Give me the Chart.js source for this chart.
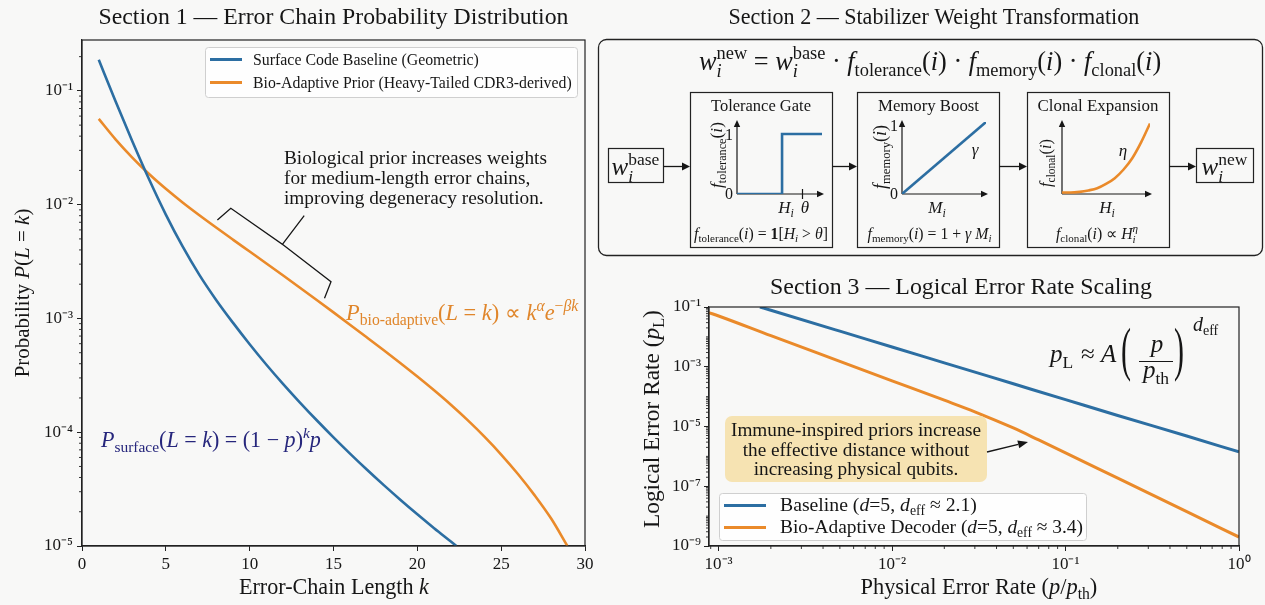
<!DOCTYPE html>
<html><head><meta charset="utf-8">
<script src="https://cdn.jsdelivr.net/npm/chart.js@4.4.1/dist/chart.umd.min.js"></script>
<style>
html,body{margin:0;padding:0;background:#f8f8f7;}
#wrap{position:relative;width:1265px;height:605px;overflow:hidden;background:#f8f8f7;}
canvas{position:absolute;}
</style></head><body><div id="wrap">
<canvas id="bg" width="1265" height="605" style="left:0;top:0"></canvas>
<canvas id="c1" width="600" height="605" style="left:0;top:0"></canvas>
<canvas id="c3" width="665" height="335" style="left:600px;top:270px"></canvas>
<canvas id="m1" width="93" height="80" style="left:733px;top:118px"></canvas>
<canvas id="m2" width="92" height="80" style="left:898px;top:118px"></canvas>
<canvas id="m3" width="96" height="80" style="left:1058px;top:118px"></canvas>
<canvas id="ov" width="1265" height="605" style="left:0;top:0;pointer-events:none"></canvas>
</div>
<script>
// ---------- DATA ----------
// Section 1: error-chain length k and probabilities
const kSurface = [1,2,3,4,5,6,7,8,9,10,11,12,13,14,15,16,17,18,19,20,21,22,22.33];
const pSurface = [0.1875,0.08091,0.03614,0.01671,0.008185,0.004295,0.002415,0.001455,9.183e-4,5.929e-4,3.917e-4,2.649e-4,1.824e-4,1.274e-4,9.016e-5,6.457e-5,4.677e-5,3.428e-5,2.541e-5,1.901e-5,1.435e-5,1.094e-5,1.0e-5];
const kBio = [1,2,3,4,5,6,7,8,9,10,11,12,13,14,15,16,17,18,19,20,21,22,23,24,25,26,27,28,28.95];
const pBio = [0.05675,0.03750,0.02594,0.01858,0.01377,0.01045,0.008072,0.006295,0.004932,0.003873,0.003041,0.002382,0.001862,0.001452,0.001130,8.770e-4,6.792e-4,5.248e-4,4.036e-4,3.083e-4,2.333e-4,1.742e-4,1.276e-4,9.141e-5,6.368e-5,4.295e-5,2.786e-5,1.726e-5,1.0e-5];
const s1XTicks = [0,5,10,15,20,25,30];
const s1YTicks = [1e-5,1e-4,1e-3,1e-2,1e-1];
const s1YLabels = ['10⁻⁵','10⁻⁴','10⁻³','10⁻²','10⁻¹'];
const s1Legend = ['Surface Code Baseline (Geometric)','Bio-Adaptive Prior (Heavy-Tailed CDR3-derived)'];

// Section 2: schematic transfer functions
const tolX = [0,0.53,0.53,1], tolY = [0,0,1,1];
const memX = [0,1], memY = [0,1];
const cloX = [0,0.1,0.2,0.3,0.4,0.5,0.6,0.7,0.8,0.9,1.0];
const cloY = [0.02,0.02,0.03,0.05,0.08,0.14,0.22,0.34,0.50,0.72,0.98];

// Section 3: physical vs logical error rate
const pBaseX = [0.00173,0.002,0.005,0.01,0.02,0.05,0.1,0.2,0.5,1];
const pBaseY = [0.1,0.0776,0.0155,4.57e-3,1.35e-3,2.69e-4,7.94e-5,2.34e-5,4.79e-6,1.41e-6];
const pBioX = [0.00088,0.001,0.002,0.005,0.01,0.02,0.03,0.05,0.07,0.1,0.2,0.5,1];
const pBioY = [0.0646,0.0501,0.01096,1.514e-3,3.388e-4,7.586e-5,3.112e-5,8.913e-6,3.548e-6,1.318e-6,1.862e-7,1.413e-8,1.995e-9];
const s3XTicks = [1e-3,1e-2,1e-1,1];
const s3XLabels = ['10⁻³','10⁻²','10⁻¹','10⁰'];
const s3YTicks = [1e-9,1e-7,1e-5,1e-3,1e-1];
const s3YLabels = ['10⁻⁹','10⁻⁷','10⁻⁵','10⁻³','10⁻¹'];

// ---------- STYLE ----------
const SERIF='"Liberation Serif","Times New Roman",Times,serif';
const BLUE='#2c6ea2', ORANGE='#ea8a2a', INK='#161616', AX='#222';
Chart.defaults.font.family=SERIF;
Chart.defaults.color=INK;

function fnt(sz,it,b){return (it?'italic ':'')+(b?'bold ':'')+sz.toFixed(2)+'px '+SERIF;}
const R=t=>({t}), I=t=>({t,it:1}), Rb=t=>({t,lv:-1}), Ib=t=>({t,it:1,lv:-1}),
      Rp=t=>({t,lv:1}), Ip=t=>({t,it:1,lv:1}), B=t=>({t,b:1}), ST=(a,b)=>({stack:[a,b]});
function partW(ctx,p,sz){
  if(p.stack){return Math.max(...p.stack.map(q=>{ctx.font=fnt(sz*0.7,q.it);return ctx.measureText(q.t).width;}));}
  ctx.font=fnt(p.lv?sz*0.7:sz,p.it,p.b);return ctx.measureText(p.t).width;
}
function rich(ctx,x,y,parts,sz,o={}){
  let w=parts.reduce((a,p)=>a+partW(ctx,p,sz),0);
  if(o.w){sz=sz*o.w/w;w=o.w;}
  let cx=o.align==='center'?x-w/2:o.align==='right'?x-w:x;
  ctx.fillStyle=o.color||INK;ctx.textBaseline='alphabetic';ctx.textAlign='left';
  for(const p of parts){
    const pw=partW(ctx,p,sz);
    if(p.stack){
      const [a,b]=p.stack;
      ctx.font=fnt(sz*0.7,a.it);ctx.fillText(a.t,cx,y-0.42*sz);
      ctx.font=fnt(sz*0.7,b.it);ctx.fillText(b.t,cx,y+0.26*sz);
    }else{
      ctx.font=fnt(p.lv?sz*0.7:sz,p.it,p.b);
      const dy=p.lv===1?-0.4*sz:p.lv===-1?0.22*sz:0;
      ctx.fillText(p.t,cx,y+dy);
    }
    cx+=pw;
  }
  return sz;
}
function vrich(ctx,x,y,parts,sz,o={}){ctx.save();ctx.translate(x,y);ctx.rotate(-Math.PI/2);rich(ctx,0,0,parts,sz,Object.assign({align:'center'},o));ctx.restore();}
function rrect(ctx,x,y,w,h,r){ctx.beginPath();ctx.moveTo(x+r,y);ctx.arcTo(x+w,y,x+w,y+h,r);ctx.arcTo(x+w,y+h,x,y+h,r);ctx.arcTo(x,y+h,x,y,r);ctx.arcTo(x,y,x+w,y,r);ctx.closePath();}
function arrow(ctx,x1,y1,x2,y2,hl,hw,lw){
  const a=Math.atan2(y2-y1,x2-x1);ctx.strokeStyle=INK;ctx.fillStyle=INK;ctx.lineWidth=lw||1.3;
  const bx=x2-hl*Math.cos(a),by=y2-hl*Math.sin(a);
  ctx.beginPath();ctx.moveTo(x1,y1);ctx.lineTo(bx,by);ctx.stroke();
  ctx.beginPath();ctx.moveTo(x2,y2);ctx.lineTo(bx+hw*Math.sin(a),by-hw*Math.cos(a));ctx.lineTo(bx-hw*Math.sin(a),by+hw*Math.cos(a));ctx.closePath();ctx.fill();
}

// ---------- AXIS PLUGIN (frame + minor log ticks) ----------
function frameAndMinor(opts){return {id:'fm',afterDraw(ch){
  const c=ch.ctx,a=ch.chartArea;c.save();c.strokeStyle=AX;c.lineWidth=1.2;
  c.strokeRect(a.left,a.top,a.right-a.left,a.bottom-a.top);
  c.lineWidth=0.9;
  for(const axis of opts){
    const s=ch.scales[axis];
    for(let n=-12;n<=1;n++)for(let m=1;m<=9;m++){
      const v=m*Math.pow(10,n);
      if(v<s.min||v>s.max)continue;
      if(s.ticks.some(t=>Math.abs(t.value/v-1)<1e-6))continue;
      const px=s.getPixelForValue(v);c.beginPath();
      if(axis==='y'){c.moveTo(a.left,px);c.lineTo(a.left-3,px);}else{c.moveTo(px,a.bottom);c.lineTo(px,a.bottom+3);}
      c.stroke();
    }
  }
  c.restore();
}};}
const gridCfg={drawOnChartArea:false,drawTicks:true,tickLength:5,tickColor:AX,tickWidth:1};
const border={display:true,color:AX,width:1.2};
const tickFont={family:SERIF,size:17};

// ---------- SECTION 1 ----------
new Chart(document.getElementById('c1'),{
  type:'line',
  data:{datasets:[
    {data:kSurface.map((k,i)=>({x:k,y:pSurface[i]})),borderColor:BLUE,borderWidth:2.6,pointRadius:0,cubicInterpolationMode:'monotone',fill:false},
    {data:kBio.map((k,i)=>({x:k,y:pBio[i]})),borderColor:ORANGE,borderWidth:2.6,pointRadius:0,cubicInterpolationMode:'monotone',fill:false}
  ]},
  options:{responsive:false,animation:false,events:[],
    layout:{padding:{left:0,top:40,right:15,bottom:0}},
    plugins:{legend:{display:false},tooltip:{enabled:false}},
    scales:{
      x:{type:'linear',min:0,max:30,afterBuildTicks:s=>{s.ticks=s1XTicks.map(v=>({value:v}));},
         ticks:{font:tickFont,color:INK,padding:3,maxRotation:0,autoSkip:false,callback:v=>String(v)},
         grid:gridCfg,border,afterFit:s=>{s.height=59;}},
      y:{type:'logarithmic',min:1e-5,max:0.28,afterBuildTicks:s=>{s.ticks=s1YTicks.map(v=>({value:v}));},
         ticks:{font:tickFont,color:INK,padding:4,autoSkip:false,callback:(v,i)=>s1YLabels[i]},
         grid:gridCfg,border,afterFit:s=>{s.width=82;}}
    }},
  plugins:[frameAndMinor(['y'])]
});

// ---------- SECTION 3 ----------
new Chart(document.getElementById('c3'),{
  type:'line',
  data:{datasets:[
    {data:pBaseX.map((x,i)=>({x,y:pBaseY[i]})),borderColor:BLUE,borderWidth:3,pointRadius:0,cubicInterpolationMode:'monotone',fill:false},
    {data:pBioX.map((x,i)=>({x,y:pBioY[i]})),borderColor:ORANGE,borderWidth:3,pointRadius:0,cubicInterpolationMode:'monotone',fill:false}
  ]},
  options:{responsive:false,animation:false,events:[],
    layout:{padding:{left:0,top:37,right:26,bottom:0}},
    plugins:{legend:{display:false},tooltip:{enabled:false}},
    scales:{
      x:{type:'logarithmic',min:0.00088,max:1,afterBuildTicks:s=>{s.ticks=s3XTicks.map(v=>({value:v}));},
         ticks:{font:tickFont,color:INK,padding:3,maxRotation:0,autoSkip:false,callback:(v,i)=>s3XLabels[i]},
         grid:gridCfg,border,afterFit:s=>{s.height=59;}},
      y:{type:'logarithmic',min:1e-9,max:0.1,afterBuildTicks:s=>{s.ticks=s3YTicks.map(v=>({value:v}));},
         ticks:{font:tickFont,color:INK,padding:3,autoSkip:false,callback:(v,i)=>s3YLabels[i]},
         grid:gridCfg,border,afterFit:s=>{s.width=109;}}
    }},
  plugins:[frameAndMinor(['x','y'])]
});

// ---------- SECTION 2 mini function plots ----------
function mini(id,xs,ys,color,ymax){
  new Chart(document.getElementById(id),{type:'line',
    data:{datasets:[{data:xs.map((x,i)=>({x,y:ys[i]})),borderColor:color,borderWidth:2.6,pointRadius:0,cubicInterpolationMode:'monotone',fill:false}]},
    options:{responsive:false,animation:false,events:[],layout:{padding:4},
      plugins:{legend:{display:false},tooltip:{enabled:false}},
      scales:{x:{type:'linear',min:0,max:1,display:false},y:{type:'linear',min:0,max:ymax,display:false}}}});
}
mini('m1',tolX,tolY,BLUE,1.2);
mini('m2',memX,memY,BLUE,1.0);
mini('m3',cloX,cloY,ORANGE,1.0);

// ---------- BACKGROUND: section 2 diagram ----------
(function(){
  const c=document.getElementById('bg').getContext('2d');
  c.fillStyle='#f8f8f7';c.fillRect(0,0,1265,605);
  rich(c,934,24,[R('Section 2 — Stabilizer Weight Transformation')],21,{align:'center',w:411});
  c.strokeStyle=AX;c.lineWidth=1.3;rrect(c,598.5,39.5,664,216,8);c.stroke();
  rich(c,930,70,[I('w'),ST(R('new'),I('i')),R(' = '),I('w'),ST(R('base'),I('i')),R(' · '),I('f'),Rb('tolerance'),R('('),I('i'),R(') · '),I('f'),Rb('memory'),R('('),I('i'),R(') · '),I('f'),Rb('clonal'),R('('),I('i'),R(')')],24,{align:'center',w:462});
  c.lineWidth=1.2;c.strokeStyle=AX;
  c.strokeRect(608.5,148.5,55,34);c.strokeRect(1196.5,148.5,57,34);
  c.strokeRect(690.5,92.5,142,155);c.strokeRect(857.5,92.5,142,155);c.strokeRect(1027.5,92.5,142,155);
  rich(c,635.5,175,[I('w'),ST(R('base'),I('i'))],25,{align:'center'});
  rich(c,1224.5,175,[I('w'),ST(R('new'),I('i'))],25,{align:'center'});
  arrow(c,663.5,166.5,690,166.5,8,4);arrow(c,832.5,166.5,857,166.5,8,4);
  arrow(c,999.5,166.5,1027,166.5,8,4);arrow(c,1169.5,166.5,1196,166.5,8,4);
  // titles
  rich(c,761,111,[R('Tolerance Gate')],16,{align:'center',w:100});
  rich(c,928.5,111,[R('Memory Boost')],16,{align:'center',w:101});
  rich(c,1098,111,[R('Clonal Expansion')],16,{align:'center',w:121});
  // axes arrows
  arrow(c,737,194,737,120,7,3.2,1.2);arrow(c,737,194,824,194,7,3.2,1.2);
  arrow(c,902,194,902,120,7,3.2,1.2);arrow(c,902,194,988,194,7,3.2,1.2);
  arrow(c,1062,194,1062,120,7,3.2,1.2);arrow(c,1062,194,1152,194,7,3.2,1.2);
  c.beginPath();c.moveTo(802.5,189);c.lineTo(802.5,199);c.stroke();
  // labels
  rich(c,733,140,[R('1')],16,{align:'right'});rich(c,733,199,[R('0')],16,{align:'right'});
  rich(c,898,131,[R('1')],16,{align:'right'});rich(c,898,199,[R('0')],16,{align:'right'});
  rich(c,786,213,[I('H'),Ib('i')],17,{align:'center'});rich(c,805,213,[I('θ')],17,{align:'center'});
  rich(c,937,213,[I('M'),Ib('i')],17,{align:'center'});
  rich(c,1107,213,[I('H'),Ib('i')],17,{align:'center'});
  rich(c,975,155,[I('γ')],17,{align:'center'});
  rich(c,1123,156,[I('η')],17,{align:'center'});
  vrich(c,722,155,[I('f'),Rb('tolerance'),R('('),I('i'),R(')')],15,{w:66});
  vrich(c,886,157,[I('f'),Rb('memory'),R('('),I('i'),R(')')],15,{w:64});
  vrich(c,1051,163,[I('f'),Rb('clonal'),R('('),I('i'),R(')')],15,{w:48});
  const fsz=rich(c,761,239,[I('f'),Rb('tolerance'),R('('),I('i'),R(') = '),B('1'),R('['),I('H'),Ib('i'),R(' > '),I('θ'),R(']')],14,{align:'center',w:134});
  rich(c,929.5,239,[I('f'),Rb('memory'),R('('),I('i'),R(') = 1 + '),I('γ'),R(' '),I('M'),Ib('i')],fsz,{align:'center'});
  rich(c,1097,239,[I('f'),Rb('clonal'),R('('),I('i'),R(') ∝ '),I('H'),ST(I('η'),I('i'))],fsz,{align:'center'});
})();

// ---------- OVERLAY: text & annotations for sections 1 and 3 ----------
(function(){
  const c=document.getElementById('ov').getContext('2d');
  // Section 1
  rich(c,333.5,24,[R('Section 1 — Error Chain Probability Distribution')],21,{align:'center',w:470});
  vrich(c,29,293,[R('Probability '),I('P'),R('('),I('L'),R(' = '),I('k'),R(')')],21);
  rich(c,334,594,[R('Error-Chain Length '),I('k')],21,{align:'center',w:190});
  c.fillStyle='rgba(255,255,255,0.85)';rrect(c,205.5,47.5,372,50,3);c.fill();
  c.strokeStyle='#cfcfcf';c.lineWidth=1;c.stroke();
  c.lineWidth=3;c.strokeStyle=BLUE;c.beginPath();c.moveTo(210,59.5);c.lineTo(242,59.5);c.stroke();
  c.strokeStyle=ORANGE;c.beginPath();c.moveTo(210,82.5);c.lineTo(242,82.5);c.stroke();
  rich(c,253,64.5,[R(s1Legend[0])],15,{w:226});
  rich(c,253,87.5,[R(s1Legend[1])],15,{w:319});
  const asz=rich(c,284,164,[R('Biological prior increases weights')],17.5,{w:263});
  rich(c,284,184,[R('for medium-length error chains,')],asz);
  rich(c,284,203.5,[R('improving degeneracy resolution.')],asz);
  c.strokeStyle=INK;c.lineWidth=1.3;c.beginPath();
  c.moveTo(217.4,220);c.lineTo(230.8,208.3);c.lineTo(282.4,244.3);c.lineTo(304.2,215.7);
  c.moveTo(282.4,244.3);c.lineTo(331,281.7);c.lineTo(324.5,298.3);c.stroke();
  rich(c,346,320,[I('P'),Rb('bio-adaptive'),R('('),I('L'),R(' = '),I('k'),R(') ∝ '),I('k'),Ip('α'),I('e'),Rp('−'),Ip('βk')],20,{w:232,color:'#e0862b'});
  rich(c,101,447,[I('P'),Rb('surface'),R('('),I('L'),R(' = '),I('k'),R(') = (1 − '),I('p'),R(')'),Ip('k'),I('p')],20,{w:220,color:'#26267c'});

  // Section 3
  rich(c,961,294,[R('Section 3 — Logical Error Rate Scaling')],21,{align:'center',w:382});
  vrich(c,659,419,[R('Logical Error Rate ('),I('p'),Rb('L'),R(')')],21,{w:218});
  rich(c,979,594,[R('Physical Error Rate ('),I('p'),R('/'),I('p'),Rb('th'),R(')')],21,{align:'center',w:237});
  // formula
  rich(c,1050,362,[I('p'),Rb('L')],25);
  rich(c,1081,362,[R('≈')],25);
  rich(c,1101,362,[I('A')],25);
  c.fillStyle=INK;c.font=fnt(24,0);c.textAlign='left';
  c.save();c.translate(1121,368.5);c.scale(1.25,2.5);c.fillText('(',0,0);c.restore();
  c.save();c.translate(1174,368.5);c.scale(1.25,2.5);c.fillText(')',0,0);c.restore();
  rich(c,1157,352,[I('p')],25,{align:'center'});
  c.lineWidth=1.2;c.strokeStyle=INK;c.beginPath();c.moveTo(1139,361.5);c.lineTo(1173,361.5);c.stroke();
  rich(c,1156,378,[I('p'),Rb('th')],25,{align:'center'});
  rich(c,1193,331,[I('d'),Rb('eff')],20);
  // annotation
  c.fillStyle='#f6e3b2';rrect(c,725,416,262,66,7);c.fill();
  const bsz=rich(c,856,436,[R('Immune-inspired priors increase')],18,{align:'center',w:250});
  rich(c,856,455.5,[R('the effective distance without')],bsz,{align:'center'});
  rich(c,856,475,[R('increasing physical qubits.')],bsz,{align:'center'});
  arrow(c,987,452,1028,442,10,4,1.4);
  // legend
  c.fillStyle='rgba(255,255,255,0.85)';rrect(c,719.5,493.5,367,47,3);c.fill();
  c.strokeStyle='#cfcfcf';c.lineWidth=1;c.stroke();
  c.lineWidth=3;c.strokeStyle=BLUE;c.beginPath();c.moveTo(724,505.5);c.lineTo(766,505.5);c.stroke();
  c.strokeStyle=ORANGE;c.beginPath();c.moveTo(724,527.5);c.lineTo(766,527.5);c.stroke();
  rich(c,780,511,[R('Baseline ('),I('d'),R('=5, '),I('d'),Rb('eff'),R(' ≈ 2.1)')],17,{w:197});
  rich(c,780,533,[R('Bio-Adaptive Decoder ('),I('d'),R('=5, '),I('d'),Rb('eff'),R(' ≈ 3.4)')],17,{w:303});
})();
</script>
</body></html>
